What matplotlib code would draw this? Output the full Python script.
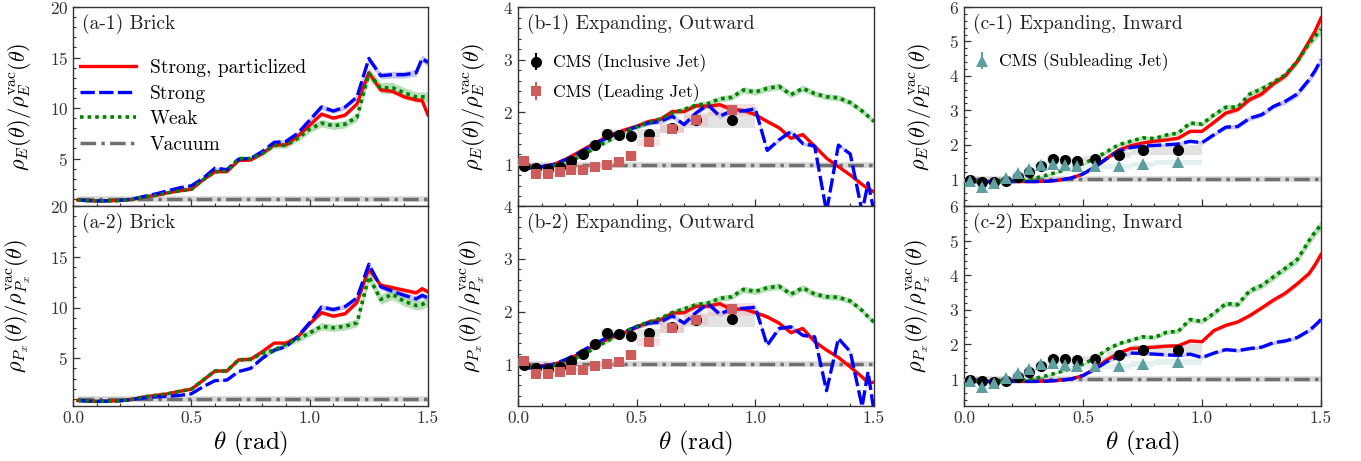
import numpy as np
import matplotlib
matplotlib.use('Agg')
import matplotlib.pyplot as plt
from matplotlib.ticker import MultipleLocator, AutoMinorLocator, FormatStrFormatter

plt.rcParams.update({
    'font.family': 'serif',
    'font.serif': ['cmr10'],
    'mathtext.fontset': 'cm',
    'axes.formatter.use_mathtext': True,
    'axes.unicode_minus': False,
})

# ---------------- data ----------------
theta = [0.02, 0.05, 0.10, 0.15, 0.20, 0.25, 0.30, 0.35, 0.40, 0.45, 0.50, 0.55, 0.60, 0.65, 0.70, 0.75,
         0.80, 0.85, 0.90, 0.95, 1.00, 1.05, 1.10, 1.15, 1.20, 1.25, 1.30, 1.35, 1.40, 1.45, 1.475, 1.50]

a1_red = [0.90, 0.85, 0.80, 0.82, 0.85, 0.95, 1.20, 1.35, 1.60, 1.80, 1.95, 2.90, 3.70, 3.70, 4.80, 4.85,
          5.50, 6.35, 6.35, 7.20, 8.30, 9.40, 9.00, 9.30, 10.40, 13.50, 11.80, 11.65, 11.10, 10.80, 10.75, 9.30]
a1_blue = [0.90, 0.85, 0.80, 0.82, 0.86, 0.98, 1.25, 1.50, 1.80, 2.10, 2.30, 3.05, 4.05, 3.90, 4.95, 5.00,
           5.70, 6.60, 6.70, 7.50, 8.80, 10.10, 9.70, 10.10, 11.10, 14.90, 13.20, 13.30, 13.30, 13.50, 14.90, 14.50]
a1_green = [0.90, 0.85, 0.80, 0.82, 0.85, 0.95, 1.20, 1.35, 1.60, 1.80, 1.95, 2.90, 3.70, 3.75, 5.00, 5.00,
            5.50, 6.30, 6.30, 7.00, 7.90, 8.50, 8.25, 8.40, 9.10, 13.40, 12.00, 12.00, 11.50, 11.10, 11.10, 11.10]

a2_red = [0.85, 0.80, 0.75, 0.78, 0.82, 0.95, 1.20, 1.35, 1.50, 1.75, 1.95, 2.85, 3.75, 3.75, 4.85, 4.90,
          5.65, 6.50, 6.50, 7.10, 8.40, 9.50, 9.15, 9.40, 10.50, 13.80, 12.20, 11.95, 11.70, 11.45, 11.85, 11.55]
a2_blue = [0.85, 0.80, 0.75, 0.78, 0.82, 0.92, 1.10, 1.20, 1.25, 1.35, 1.50, 2.20, 2.80, 2.85, 3.70, 4.00,
           5.00, 5.80, 6.15, 7.15, 8.50, 10.05, 9.80, 10.10, 10.95, 14.25, 12.05, 11.60, 11.20, 10.85, 11.20, 10.95]
a2_green = [0.85, 0.80, 0.75, 0.78, 0.82, 0.95, 1.20, 1.35, 1.50, 1.75, 1.95, 2.85, 3.75, 3.75, 4.85, 4.90,
            5.50, 5.80, 6.40, 6.90, 7.50, 8.15, 8.00, 8.15, 8.50, 13.05, 10.80, 11.30, 10.60, 10.20, 10.30, 10.60]

b1_red = [0.94, 0.93, 0.96, 1.00, 1.10, 1.22, 1.35, 1.47, 1.58, 1.66, 1.73, 1.82, 1.86, 2.01, 2.01, 2.12,
          2.11, 2.14, 2.05, 2.03, 1.95, 1.82, 1.70, 1.50, 1.57, 1.35, 1.12, 0.96, 0.80, 0.62, 0.54, 0.48]
b1_blue = [0.94, 0.93, 0.96, 1.00, 1.09, 1.20, 1.33, 1.45, 1.56, 1.64, 1.72, 1.79, 1.82, 1.92, 1.76, 1.98,
           2.14, 1.92, 2.02, 2.02, 2.06, 1.27, 1.47, 1.63, 1.40, 1.35, 0.10, 1.37, 1.20, 0.10, 0.65, 0.10]
b1_green = [0.95, 0.94, 0.95, 0.98, 1.04, 1.13, 1.25, 1.38, 1.50, 1.62, 1.72, 1.80, 1.87, 1.98, 2.05, 2.13,
            2.16, 2.25, 2.28, 2.42, 2.38, 2.45, 2.49, 2.33, 2.45, 2.35, 2.29, 2.27, 2.18, 2.02, 1.92, 1.82]

b2_red = [0.95, 0.94, 0.97, 1.00, 1.07, 1.18, 1.30, 1.42, 1.52, 1.60, 1.70, 1.80, 1.84, 1.97, 1.98, 2.10,
          2.10, 2.15, 2.04, 2.05, 1.98, 1.90, 1.78, 1.60, 1.68, 1.43, 1.27, 1.13, 0.95, 0.76, 0.65, 0.66]
b2_blue = [0.94, 0.93, 0.96, 1.00, 1.09, 1.20, 1.33, 1.45, 1.55, 1.62, 1.71, 1.78, 1.80, 1.92, 1.78, 1.98,
           2.15, 1.95, 2.05, 2.06, 2.08, 1.36, 1.68, 1.71, 1.55, 1.52, 0.50, 1.49, 1.24, 0.20, 0.86, 0.10]
b2_green = [0.95, 0.94, 0.95, 0.98, 1.04, 1.13, 1.25, 1.38, 1.50, 1.62, 1.72, 1.80, 1.87, 1.98, 2.05, 2.13,
            2.16, 2.25, 2.28, 2.42, 2.38, 2.45, 2.48, 2.33, 2.45, 2.33, 2.28, 2.27, 2.20, 2.02, 1.90, 1.80]

c1_red = [0.97, 0.93, 0.93, 0.93, 0.93, 0.93, 0.93, 0.94, 0.97, 1.03, 1.15, 1.35, 1.60, 1.85, 1.97, 2.05,
          2.10, 2.14, 2.19, 2.39, 2.39, 2.65, 2.92, 3.02, 3.31, 3.47, 3.77, 4.00, 4.42, 5.00, 5.30, 5.68]
c1_blue = [0.97, 0.93, 0.93, 0.93, 0.93, 0.93, 0.93, 0.94, 0.97, 1.03, 1.15, 1.35, 1.60, 1.82, 1.92, 1.96,
           1.98, 2.00, 2.02, 2.10, 2.06, 2.29, 2.51, 2.53, 2.77, 2.87, 3.11, 3.26, 3.47, 3.89, 4.15, 4.47]
c1_green = [0.97, 0.93, 0.93, 0.93, 0.94, 0.97, 1.03, 1.12, 1.22, 1.33, 1.45, 1.60, 1.80, 2.00, 2.10, 2.20,
            2.18, 2.28, 2.34, 2.63, 2.60, 2.87, 3.09, 3.09, 3.47, 3.62, 3.81, 4.03, 4.42, 4.95, 5.15, 5.35]

c2_red = [0.97, 0.93, 0.93, 0.93, 0.93, 0.93, 0.93, 0.94, 0.96, 1.00, 1.10, 1.30, 1.55, 1.75, 1.88, 1.90,
          1.92, 1.95, 1.96, 2.10, 2.08, 2.40, 2.55, 2.65, 2.83, 3.05, 3.28, 3.48, 3.75, 4.05, 4.30, 4.60]
c2_blue = [0.97, 0.93, 0.93, 0.93, 0.93, 0.93, 0.93, 0.94, 0.96, 1.00, 1.10, 1.28, 1.50, 1.65, 1.75, 1.74,
           1.72, 1.70, 1.68, 1.72, 1.62, 1.75, 1.85, 1.82, 1.88, 1.92, 2.05, 2.10, 2.20, 2.40, 2.55, 2.72]
c2_green = [0.97, 0.93, 0.93, 0.93, 0.94, 0.97, 1.02, 1.10, 1.20, 1.30, 1.43, 1.60, 1.85, 2.02, 2.12, 2.22,
            2.20, 2.35, 2.38, 2.72, 2.66, 2.90, 3.18, 3.15, 3.55, 3.70, 3.95, 4.20, 4.45, 5.00, 5.25, 5.45]

vac_theta = [0.02, 1.50]
vac_ratio = [1.0, 1.0]

# relative half-width of the theory uncertainty bands
band_red = 0.02
band_blue = 0.025
band_green_brick = 0.045
band_green_exp = 0.025

# CMS data
cms_theta = [0.025, 0.075, 0.125, 0.175, 0.225, 0.275, 0.325, 0.375, 0.425, 0.475, 0.55, 0.65, 0.75, 0.90]
cms_lo = [0.00, 0.05, 0.10, 0.15, 0.20, 0.25, 0.30, 0.35, 0.40, 0.45, 0.50, 0.60, 0.70, 0.80]
cms_hi = [0.05, 0.10, 0.15, 0.20, 0.25, 0.30, 0.35, 0.40, 0.45, 0.50, 0.60, 0.70, 0.80, 1.00]
incl = [0.98, 0.93, 0.91, 0.95, 1.07, 1.20, 1.38, 1.59, 1.57, 1.54, 1.59, 1.70, 1.84, 1.85]
incl_sys = [0.03, 0.03, 0.03, 0.03, 0.04, 0.05, 0.06, 0.08, 0.08, 0.08, 0.08, 0.10, 0.14, 0.15]
incl_stat = [0.01, 0.01, 0.01, 0.01, 0.01, 0.01, 0.01, 0.02, 0.02, 0.02, 0.02, 0.02, 0.03, 0.03]
lead = [1.06, 0.82, 0.82, 0.85, 0.89, 0.89, 0.96, 1.00, 1.04, 1.17, 1.42, 1.68, 1.84, 2.04]
lead_sys = [0.06, 0.04, 0.04, 0.04, 0.04, 0.04, 0.05, 0.05, 0.05, 0.06, 0.07, 0.08, 0.10, 0.12]
lead_stat = [0.01, 0.01, 0.01, 0.01, 0.01, 0.01, 0.01, 0.02, 0.02, 0.02, 0.02, 0.02, 0.03, 0.03]
sub = [0.95, 0.76, 0.89, 1.03, 1.17, 1.29, 1.42, 1.45, 1.41, 1.38, 1.37, 1.37, 1.43, 1.49]
sub_sys = [0.05, 0.05, 0.05, 0.05, 0.06, 0.07, 0.08, 0.08, 0.08, 0.08, 0.07, 0.07, 0.08, 0.08]
sub_stat = [0.02, 0.02, 0.02, 0.02, 0.02, 0.02, 0.02, 0.03, 0.03, 0.03, 0.03, 0.03, 0.04, 0.04]

titles = {'a1': '(a-1) Brick', 'a2': '(a-2) Brick',
          'b1': '(b-1) Expanding, Outward', 'b2': '(b-2) Expanding, Outward',
          'c1': '(c-1) Expanding, Inward', 'c2': '(c-2) Expanding, Inward'}
ylabel_E = r'$\rho_E(\theta)/\rho_E^{\rm vac}(\theta)$'
ylabel_P = r'$\rho_{P_x}(\theta)/\rho_{P_x}^{\rm vac}(\theta)$'

# ---------------- layout ----------------
W, H = 1361, 461
fig = plt.figure(figsize=(W / 100, H / 100), dpi=100)
cols = {'a': (73, 428), 'b': (518, 874), 'c': (964, 1321)}
rows = {'1': (7, 206), '2': (206, 406)}
ylims = {'a': (0.3, 20), 'b': (0.21, 4), 'c': (0.22, 6)}
ymaj = {'a': 5, 'b': 1, 'c': 1}
ylab_x = {'a': -0.112, 'b': -0.088, 'c': -0.088}

theory = {
    'a1': (a1_red, a1_blue, a1_green), 'a2': (a2_red, a2_blue, a2_green),
    'b1': (b1_red, b1_blue, b1_green), 'b2': (b2_red, b2_blue, b2_green),
    'c1': (c1_red, c1_blue, c1_green), 'c2': (c2_red, c2_blue, c2_green),
}

th = np.array(theta)
axes = {}
for c, (l, r) in cols.items():
    for rw, (t, b) in rows.items():
        key = c + rw
        ax = fig.add_axes([l / W, 1 - b / H, (r - l) / W, (b - t) / H])
        axes[key] = ax
        red, blue, green = (np.array(v) for v in theory[key])
        gb = band_green_brick if c == 'a' else band_green_exp

        ax.plot(vac_theta, vac_ratio, color='#d8d8d8', lw=4.0, zorder=1.5, solid_capstyle='butt')
        lv, = ax.plot(vac_theta, vac_ratio, color='#707070', lw=2.5,
                      ls=(0, (4.5, 1.5, 1, 1.5)), zorder=1.6, label='Vacuum')

        ax.fill_between(th, red * (1 - band_red), red * (1 + band_red), color='#ff9090', alpha=0.6, lw=0, zorder=2)
        ax.fill_between(th, blue * (1 - band_blue), blue * (1 + band_blue), color='#a0a0ff', alpha=0.6, lw=0, zorder=2)
        ax.fill_between(th, green * (1 - gb), green * (1 + gb), color='#7cc47c', alpha=0.55, lw=0, zorder=2)

        lr, = ax.plot(th, red, color='red', lw=2.4, zorder=4, label='Strong, particlized')
        lb, = ax.plot(th, blue, color='blue', lw=2.4, ls=(0, (4.3, 1.3)), zorder=5, label='Strong')
        lg, = ax.plot(th, green, color='green', lw=2.6, ls=(0, (1, 1.1)), zorder=6, label='Weak')

        if c in ('b', 'c'):
            w = np.array(cms_hi) - np.array(cms_lo)
            ax.bar(cms_lo, 2 * np.array(incl_sys), bottom=np.array(incl) - np.array(incl_sys), width=w,
                   align='edge', color='#c8c8c8', alpha=0.5, lw=0, zorder=3)
            if c == 'b':
                ax.bar(cms_lo, 2 * np.array(lead_sys), bottom=np.array(lead) - np.array(lead_sys), width=w,
                       align='edge', color='#f0b8b8', alpha=0.45, lw=0, zorder=3)
            else:
                ax.bar(cms_lo, 2 * np.array(sub_sys), bottom=np.array(sub) - np.array(sub_sys), width=w,
                       align='edge', color='#cfe4e4', alpha=0.55, lw=0, zorder=3)
            e1 = ax.errorbar(cms_theta, incl, yerr=incl_stat, fmt='o', color='black', ms=8, mew=0,
                             elinewidth=1.5, zorder=8, label='CMS (Inclusive Jet)')
            if c == 'b':
                e2 = ax.errorbar(cms_theta, lead, yerr=lead_stat, fmt='s', color='#cd5c5c', ms=7.5, mew=0,
                                 elinewidth=1.5, zorder=9, label='CMS (Leading Jet)')
                if rw == '1':
                    ax.legend(handles=[e1, e2], loc='upper left', bbox_to_anchor=(0.02, 0.765),
                              frameon=False, fontsize=12.5, handlelength=1.2, handletextpad=0.4,
                              labelspacing=0.62, borderpad=0, borderaxespad=0)
            else:
                e3 = ax.errorbar(cms_theta, sub, yerr=sub_stat, fmt='^', color='#5f9ea0', ms=8, mew=0,
                                 elinewidth=1.5, zorder=9, label='CMS (Subleading Jet)')
                if rw == '1':
                    ax.legend(handles=[e3], loc='upper left', bbox_to_anchor=(0.02, 0.77),
                              frameon=False, fontsize=12.5, handlelength=1.2, handletextpad=0.4,
                              borderpad=0, borderaxespad=0)
        elif rw == '1':
            ax.legend(handles=[lr, lb, lg, lv], loc='upper left', bbox_to_anchor=(0.02, 0.74),
                      frameon=False, fontsize=14, handlelength=2.9, handletextpad=0.7,
                      labelspacing=0.40, borderpad=0, borderaxespad=0)

        ax.text(0.025, 0.915, titles[key], transform=ax.transAxes, fontsize=14, va='center', ha='left',
                color='#222222', zorder=10)

        ax.set_xlim(0, 1.5)
        ax.set_ylim(*ylims[c])
        ax.xaxis.set_major_locator(MultipleLocator(0.5))
        ax.xaxis.set_minor_locator(MultipleLocator(0.1))
        ax.xaxis.set_major_formatter(FormatStrFormatter('%.1f'))
        ax.yaxis.set_major_locator(MultipleLocator(ymaj[c]))
        ax.yaxis.set_minor_locator(AutoMinorLocator(5))
        ax.tick_params(which='both', direction='in', top=False, right=False, labelsize=12.5,
                       colors='#333333', labelcolor='#333333')
        ax.tick_params(which='major', length=5, width=0.9)
        ax.tick_params(which='minor', length=2.5, width=0.8)
        for s in ax.spines.values():
            s.set_linewidth(1.0)
            s.set_color('#333333')
        ax.set_ylabel(ylabel_E if rw == '1' else ylabel_P, fontsize=16)
        ax.yaxis.set_label_coords(ylab_x[c], 0.5)
        if rw == '1':
            ax.tick_params(labelbottom=False)
        else:
            ax.set_xlabel(r'$\theta$ (rad)', fontsize=18, labelpad=2)

fig.savefig('out.png', dpi=100)
